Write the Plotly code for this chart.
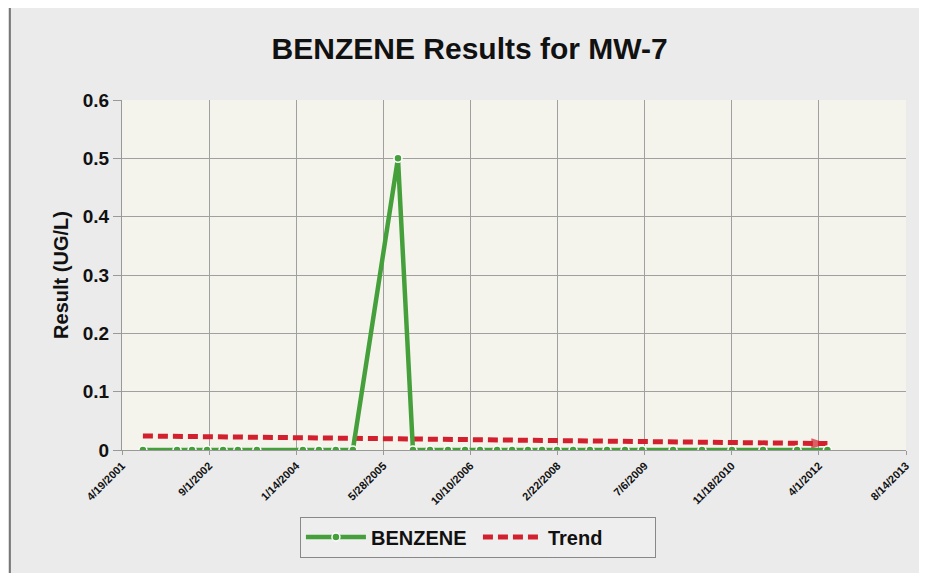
import plotly.graph_objects as go

# ---- data ----
sample_dates = [
    "2001-08-17", "2002-03-01", "2002-05-26", "2002-08-20", "2002-11-20",
    "2003-02-13", "2003-06-02", "2004-02-21", "2004-05-23", "2004-08-28",
    "2004-12-04", "2005-08-20", "2005-11-14", "2006-02-20", "2006-06-03",
    "2006-09-09", "2006-12-04", "2007-03-12", "2007-06-06", "2007-09-05",
    "2007-11-25", "2008-02-19", "2008-05-21", "2008-08-26", "2008-12-02",
    "2009-03-15", "2009-06-21", "2009-12-16", "2010-05-31", "2010-11-19",
    "2011-05-16", "2011-11-28", "2012-05-20",
]
benzene = [
    0, 0, 0, 0, 0,
    0, 0, 0, 0, 0,
    0, 0.5, 0, 0, 0,
    0, 0, 0, 0, 0,
    0, 0, 0, 0, 0,
    0, 0, 0, 0, 0,
    0, 0, 0,
]
trend_dates = ["2001-08-17", "2012-05-20"]
trend_values = [0.024, 0.011]

tick_dates = ["2001-04-19", "2002-09-01", "2004-01-14", "2005-05-28", "2006-10-10",
              "2008-02-22", "2009-07-06", "2010-11-18", "2012-04-01", "2013-08-14"]
tick_labels = ["4/19/2001", "9/1/2002", "1/14/2004", "5/28/2005", "10/10/2006",
               "2/22/2008", "7/6/2009", "11/18/2010", "4/1/2012", "8/14/2013"]
y_ticks = [0, 0.1, 0.2, 0.3, 0.4, 0.5, 0.6]

GREEN = "#45a03c"
RED = "#d3202e"

fig = go.Figure()
fig.add_trace(go.Scatter(
    x=trend_dates, y=trend_values, mode="lines", name="Trend",
    line=dict(color=RED, width=5, dash="10px,5px"),
))
fig.add_trace(go.Scatter(
    x=trend_dates, y=trend_values, mode="markers", showlegend=False,
    marker=dict(symbol=["circle", "arrow"], size=[0, 17], color=RED,
                angleref="previous", line=dict(width=0)),
    hoverinfo="skip",
))
fig.add_trace(go.Scatter(
    x=sample_dates, y=benzene, mode="lines+markers", name="BENZENE",
    line=dict(color=GREEN, width=4.5),
    marker=dict(symbol="circle", size=8, color=GREEN, line=dict(color="white", width=1.5)),
))

fig.update_layout(
    width=927, height=573,
    paper_bgcolor="#ebebeb",
    plot_bgcolor="#f4f4ec",
    margin=dict(l=114, r=29, t=92, b=131),
    title=dict(text="BENZENE Results for MW-7", x=0.498, xanchor="center", y=0.930, yanchor="middle",
               font=dict(family="Liberation Sans, Arial", size=30, color="#111", weight="bold")),
    font=dict(family="Liberation Sans, Arial", color="#111"),
    showlegend=True,
    legend=dict(orientation="h", x=0.454, xanchor="center", y=-0.19, yanchor="top",
                bgcolor="#eeeeee", bordercolor="#888888", borderwidth=1,
                font=dict(size=20, weight="bold", color="#111"),
                traceorder="reversed", itemwidth=60, entrywidth=102),
)
fig.update_xaxes(
    type="date", range=["2001-04-19", "2013-08-14"],
    tickvals=tick_dates, ticktext=tick_labels, tickangle=-45,
    tickfont=dict(size=11, weight="bold"),
    showgrid=True, gridcolor="#a0a0a0", gridwidth=1,
    showline=True, linecolor="#999999", ticks="outside", ticklen=4, tickcolor="#999999",
    zeroline=False,
)
fig.update_yaxes(
    range=[0, 0.6], tickvals=y_ticks, ticktext=[f"{v:g}" for v in y_ticks],
    tickfont=dict(size=19, weight="bold"),
    title=dict(text="Result (UG/L)", font=dict(size=20, weight="bold"), standoff=8),
    showgrid=True, gridcolor="#a0a0a0", gridwidth=1,
    showline=True, linecolor="#999999", ticks="outside", ticklen=8, tickcolor="#999999",
    zeroline=False,
)
fig.add_shape(type="line", xref="paper", yref="paper", x0=-0.143, x1=-0.143, y0=-0.4, y1=1.3,
              line=dict(color="#777777", width=2))

fig.write_html("out.html")
